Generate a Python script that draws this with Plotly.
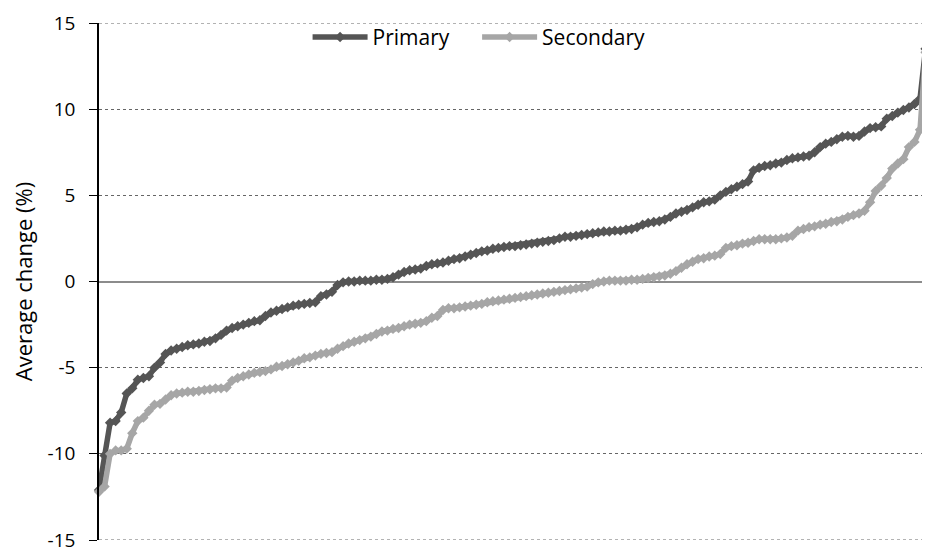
import plotly.graph_objects as go

primary = [
    -12.1, -10.1, -8.2, -8.1, -7.6, -6.5, -6.2, -5.7, -5.6, -5.5,
    -5.0, -4.7, -4.2, -4.0, -3.9, -3.8, -3.7, -3.65, -3.6, -3.5,
    -3.45, -3.3, -3.1, -2.85, -2.7, -2.6, -2.5, -2.4, -2.3, -2.25,
    -2.0, -1.8, -1.7, -1.6, -1.5, -1.4, -1.35, -1.3, -1.25, -1.2,
    -0.85, -0.75, -0.6, -0.2, -0.05, 0.0, 0.0, 0.05, 0.05, 0.05,
    0.1, 0.1, 0.15, 0.25, 0.4, 0.55, 0.65, 0.7, 0.75, 0.9,
    1.0, 1.05, 1.1, 1.2, 1.3, 1.35, 1.45, 1.55, 1.65, 1.75,
    1.8, 1.9, 1.95, 2.0, 2.05, 2.05, 2.1, 2.15, 2.2, 2.25,
    2.3, 2.35, 2.4, 2.5, 2.6, 2.6, 2.65, 2.7, 2.75, 2.8,
    2.85, 2.9, 2.9, 2.95, 2.95, 3.0, 3.05, 3.15, 3.3, 3.4,
    3.45, 3.5, 3.6, 3.75, 3.95, 4.05, 4.15, 4.3, 4.45, 4.6,
    4.65, 4.75, 5.0, 5.2, 5.35, 5.5, 5.65, 5.8, 6.45, 6.6,
    6.7, 6.75, 6.85, 6.9, 7.05, 7.15, 7.2, 7.25, 7.3, 7.5,
    7.8, 8.0, 8.1, 8.25, 8.4, 8.45, 8.4, 8.45, 8.7, 8.9,
    8.95, 9.0, 9.45, 9.6, 9.8, 9.95, 10.1, 10.3, 10.6, 13.5,
]

secondary = [
    -12.2, -11.9, -10.0, -9.8, -9.8, -9.7, -8.8, -8.1, -7.9, -7.5,
    -7.15, -7.1, -6.85, -6.6, -6.5, -6.45, -6.4, -6.4, -6.35, -6.3,
    -6.25, -6.2, -6.2, -6.15, -5.75, -5.6, -5.5, -5.4, -5.3, -5.25,
    -5.2, -5.1, -4.95, -4.9, -4.8, -4.7, -4.6, -4.45, -4.4, -4.3,
    -4.2, -4.15, -4.1, -3.9, -3.75, -3.6, -3.5, -3.4, -3.3, -3.2,
    -3.05, -2.9, -2.85, -2.75, -2.7, -2.6, -2.5, -2.45, -2.4, -2.3,
    -2.1, -2.0, -1.65, -1.55, -1.55, -1.5, -1.45, -1.4, -1.35, -1.3,
    -1.2, -1.15, -1.1, -1.05, -1.0, -0.95, -0.9, -0.85, -0.8, -0.75,
    -0.7, -0.65, -0.6, -0.55, -0.5, -0.45, -0.4, -0.35, -0.3, -0.15,
    -0.05, 0.0, 0.05, 0.05, 0.05, 0.05, 0.1, 0.1, 0.15, 0.2,
    0.25, 0.3, 0.35, 0.45, 0.6, 0.8, 1.0, 1.15, 1.3, 1.35,
    1.45, 1.5, 1.6, 1.95, 2.05, 2.1, 2.2, 2.25, 2.35, 2.45,
    2.45, 2.45, 2.45, 2.5, 2.55, 2.65, 2.95, 3.05, 3.15, 3.2,
    3.3, 3.35, 3.45, 3.5, 3.6, 3.75, 3.85, 3.95, 4.1, 4.6,
    5.25, 5.55, 6.0, 6.55, 6.85, 7.1, 7.8, 8.1, 8.8, 13.3,
]

y_ticks = [-15, -10, -5, 0, 5, 10, 15]
y_title = "Average change (%)"
names = ["Primary", "Secondary"]
colors = ["#555555", "#a6a6a6"]

x = list(range(len(primary)))
font_family = "Open Sans, Noto Sans, sans-serif"

fig = go.Figure()
for name, vals, col, lg in zip(names, [primary, secondary], colors, ["legend", "legend2"]):
    fig.add_trace(go.Scatter(
        x=x, y=vals, name=name, mode="lines+markers",
        line=dict(color=col, width=5.5),
        marker=dict(symbol="diamond", size=8, color=col),
        cliponaxis=False, legend=lg,
    ))

# dotted gridlines at the two ends of the value range
for v in (y_ticks[0], y_ticks[-1]):
    fig.add_shape(type="line", xref="paper", yref="y", x0=0, x1=1, y0=v, y1=v,
                  line=dict(color="#666666", width=1, dash="dot"), layer="below")

legend_common = dict(
    orientation="h", xanchor="left", y=1.012, yanchor="top",
    font=dict(size=21, family=font_family), itemwidth=55,
    bgcolor="rgba(0,0,0,0)",
)

fig.update_layout(
    width=922, height=541,
    margin=dict(l=91, r=0, t=14.5, b=9, autoexpand=False),
    plot_bgcolor="white", paper_bgcolor="white",
    font=dict(family=font_family, size=19, color="#000000"),
    showlegend=True,
    legend=dict(x=0.251, **legend_common),
    legend2=dict(x=0.455, **legend_common),
    xaxis=dict(
        range=[0, 149.8], showgrid=False, zeroline=False, showline=False,
        showticklabels=False, ticks="", automargin=False,
    ),
    yaxis=dict(
        range=[-15, 15], tickvals=y_ticks, ticktext=[str(v) for v in y_ticks],
        showgrid=True, gridcolor="#666666", gridwidth=1, griddash="dot",
        zeroline=True, zerolinecolor="#8c8c8c", zerolinewidth=2,
        showline=True, linecolor="#000000", linewidth=1.5,
        ticks="outside", ticklen=8, tickcolor="#000000", tickwidth=1,
        ticklabelstandoff=10, ticklabeloverflow="allow", automargin=False,
        title=dict(text=y_title, font=dict(size=22), standoff=14),
        tickfont=dict(size=19),
    ),
)

fig.write_html("out.html")
